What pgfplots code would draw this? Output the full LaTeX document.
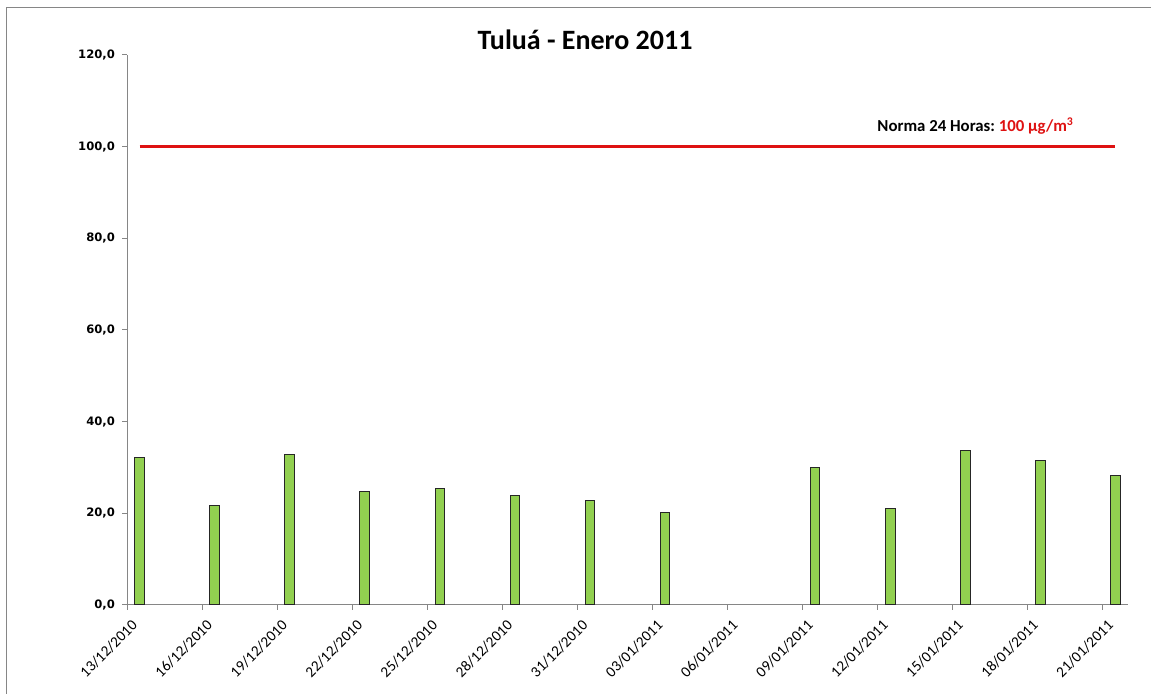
\documentclass[border=0pt]{standalone}
\usepackage{pgfplots}
\pgfplotsset{compat=1.18}
\usepackage{fontspec}
\setmainfont{Carlito}
\newfontfamily\tickfont{DejaVu Sans}
\definecolor{barg}{RGB}{146,208,80}
\definecolor{axgray}{RGB}{134,134,134}
\definecolor{normred}{RGB}{222,18,18}
\begin{document}
\begin{tikzpicture}[x=0.5pt,y=0.5pt]
\useasboundingbox (0,0) rectangle (1151,694);
\draw[axgray, line width=0.5pt] (6,-5) -- (6,686) -- (1160,686);
\node[font=\bfseries\fontsize{14}{16}\selectfont, anchor=base] at (585,644) {Tuluá - Enero 2011};
\begin{axis}[
  at={(63.5pt,44.5pt)}, anchor=south west,
  scale only axis, width=500.5pt, height=275pt,
  xmin=-0.5, xmax=39.5, ymin=0, ymax=120,
  axis x line*=bottom, axis y line*=left,
  axis line style={axgray, line width=0.5pt},
  tick align=outside, tick pos=left,
  major tick length=2.5pt, minor tick length=2.5pt,
  tick style={axgray, line width=0.5pt},
  ytick={0,20,...,120},
  /pgf/number format/assume math mode=true,
  y tick label style={font=\tickfont\bfseries\fontsize{5.8}{7}\selectfont,
    /pgf/number format/fixed, /pgf/number format/fixed zerofill,
    /pgf/number format/precision=1, /pgf/number format/use comma},
  xtick={0,3,...,39},
  xticklabels={13/12/2010,16/12/2010,19/12/2010,22/12/2010,25/12/2010,28/12/2010,31/12/2010,03/01/2011,06/01/2011,09/01/2011,12/01/2011,15/01/2011,18/01/2011,21/01/2011},
  major x tick style={draw=none},
  minor xtick={-0.5,2.5,...,38.5},
  x tick label style={rotate=45, anchor=east, font=\fontsize{7.6}{9}\selectfont},
  xticklabel shift=4pt,
  clip=false,
]
\addplot[ybar, bar width=4.75pt, fill=barg, draw=black!85, line width=0.5pt] coordinates {
(0,32.2) (3,21.6) (6,32.8) (9,24.8) (12,25.4) (15,23.9) (18,22.8) (21,20.2)
(27,29.9) (30,21.0) (33,33.6) (36,31.5) (39,28.3)};
\addplot[normred, line width=1.5pt] coordinates {(0,100) (39,100)};
\node[anchor=base east, font=\bfseries\fontsize{8.4}{10}\selectfont] at (axis cs:37.62,103.3) {Norma 24 Horas:\ \textcolor{normred}{100 µg/m\textsuperscript{3}}};
\end{axis}
\end{tikzpicture}
\end{document}
